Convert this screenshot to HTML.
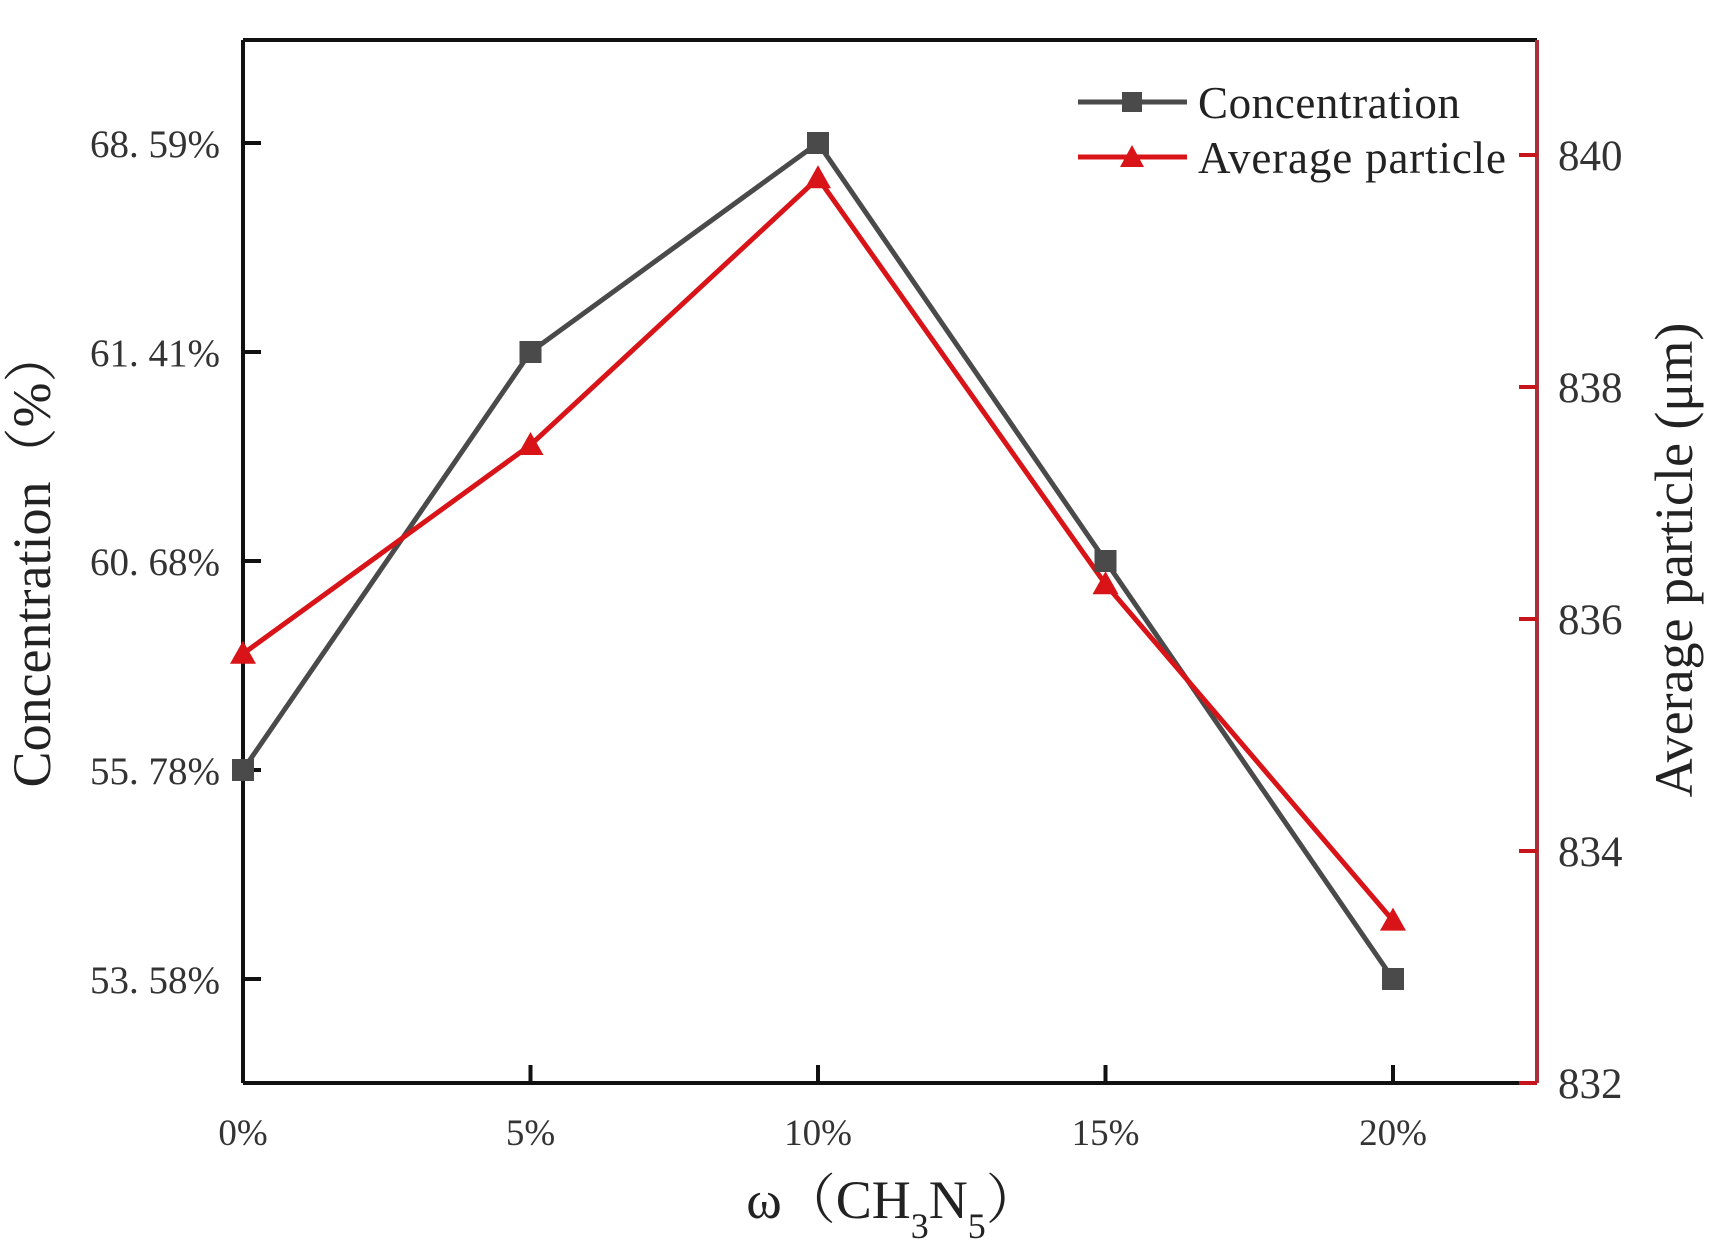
<!DOCTYPE html>
<html><head><meta charset="utf-8"><style>
body{margin:0;background:#fff;}
svg text{font-family:"Liberation Serif","Noto Serif CJK SC",serif;}
</style></head><body>
<svg id="chart" width="1715" height="1244" viewBox="0 0 1715 1244" xmlns="http://www.w3.org/2000/svg">
<g id="axes"></g>
<g id="series"></g>
<g id="legend">
  <line x1="1078" y1="102" x2="1187" y2="102" stroke="#4a4a4a" stroke-width="5"/>
  <rect x="1122" y="92" width="20" height="20" fill="#4a4a4a"/>
  <text x="1198" y="118" font-size="45" fill="#222" textLength="262">Concentration</text>
  <line x1="1078" y1="157" x2="1187" y2="157" stroke="#d81418" stroke-width="5"/>
  <polygon points="1132,145 1144,167 1120,167" fill="#d81418"/>
  <text x="1198" y="173" font-size="45" fill="#222" textLength="308">Average particle</text>
</g>
<text x="50" y="558" font-size="54" fill="#222" text-anchor="middle" transform="rotate(-90 50 558)">Concentration（%）</text>
<text x="1692" y="560" font-size="54" fill="#222" text-anchor="middle" transform="rotate(-90 1692 560)">Average particle (μm)</text>
<text x="893" y="1218" font-size="54" fill="#222" text-anchor="middle">ω（CH<tspan baseline-shift="sub" font-size="36">3</tspan>N<tspan baseline-shift="sub" font-size="36">5</tspan>）</text>
</svg>
<script>
const categories = ["0%","5%","10%","15%","20%"];
const leftTickLabels = ["53. 58%","55. 78%","60. 68%","61. 41%","68. 59%"];
const leftTickValues = [53.58,55.78,60.68,61.41,68.59];
const concentration = [55.78,61.41,68.59,60.68,53.58];
const averageParticle = [835.7,837.5,839.8,836.3,833.4];
const rightTicks = [832,834,836,838,840];

const NS="http://www.w3.org/2000/svg";
const L=243,R=1537,T=40,B=1083;
const xPos=i=>243+i*287.5;
const leftTickY=i=>979-i*209;
function yL(v){
  for(let i=0;i<leftTickValues.length-1;i++){
    const a=leftTickValues[i],b=leftTickValues[i+1];
    if(v>=a&&v<=b) return leftTickY(i)+(v-a)/(b-a)*(leftTickY(i+1)-leftTickY(i));
  }
  if(v<leftTickValues[0]) return leftTickY(0)+(leftTickValues[0]-v)*(209/2.2);
  return leftTickY(4)-(v-leftTickValues[4])*(209/7.18);
}
const yR=v=>B-(v-832)*(B-155)/8;
function el(tag,attrs,parent,txt){const e=document.createElementNS(NS,tag);for(const k in attrs)e.setAttribute(k,attrs[k]);if(txt!==undefined)e.textContent=txt;parent.appendChild(e);return e;}
const ax=document.getElementById('axes');
let e;
e=el('line',{x1:L,y1:T,x2:R,y2:T,stroke:'#111','stroke-width':4},ax);


e=el('line',{x1:L,y1:T,x2:L,y2:B,stroke:'#111','stroke-width':4},ax);


e=el('line',{x1:L,y1:B,x2:R,y2:B,stroke:'#111','stroke-width':4},ax);


e=el('line',{x1:R,y1:T,x2:R,y2:B,stroke:'#a83038','stroke-width':4},ax);


categories.forEach((c,i)=>{
  const x=xPos(i);
  e=el('line',{x1:x,y1:B,x2:x,y2:B-18,stroke:'#111','stroke-width':4},ax);
  
  
  e=el('text',{x:x,y:1145,'font-size':37,fill:'#333','text-anchor':'middle'},ax,c);
  
  
});
leftTickLabels.forEach((t,i)=>{
  const y=leftTickY(i);
  e=el('line',{x1:L,y1:y,x2:L+18,y2:y,stroke:'#111','stroke-width':4},ax);
  
  
  e=el('text',{x:220,y:y+14,'font-size':39,fill:'#333','text-anchor':'end'},ax,t);
  
  
});
rightTicks.forEach(v=>{
  const y=yR(v);
  e=el('line',{x1:R,y1:y,x2:R-18,y2:y,stroke:'#c8141c','stroke-width':4},ax);
  
  
  e=el('text',{x:1558,y:y+15,'font-size':43,fill:'#333'},ax,String(v));
  
  
});
const sg=document.getElementById('series');
e=el('polyline',{points:concentration.map((v,i)=>xPos(i)+','+yL(v)).join(' '),fill:'none',stroke:'#4a4a4a','stroke-width':5},sg);


e=el('polyline',{points:averageParticle.map((v,i)=>xPos(i)+','+yR(v)).join(' '),fill:'none',stroke:'#d81418','stroke-width':5},sg);


concentration.forEach((v,i)=>{
  e=el('rect',{x:xPos(i)-11,y:yL(v)-11,width:22,height:22,fill:'#4a4a4a'},sg);
  
  
});
averageParticle.forEach((v,i)=>{
  const x=xPos(i),y=yR(v);
  e=el('polygon',{points:`${x},${y-13} ${x+13},${y+10} ${x-13},${y+10}`,fill:'#d81418'},sg);
  
  
});
</script>
</body></html>
